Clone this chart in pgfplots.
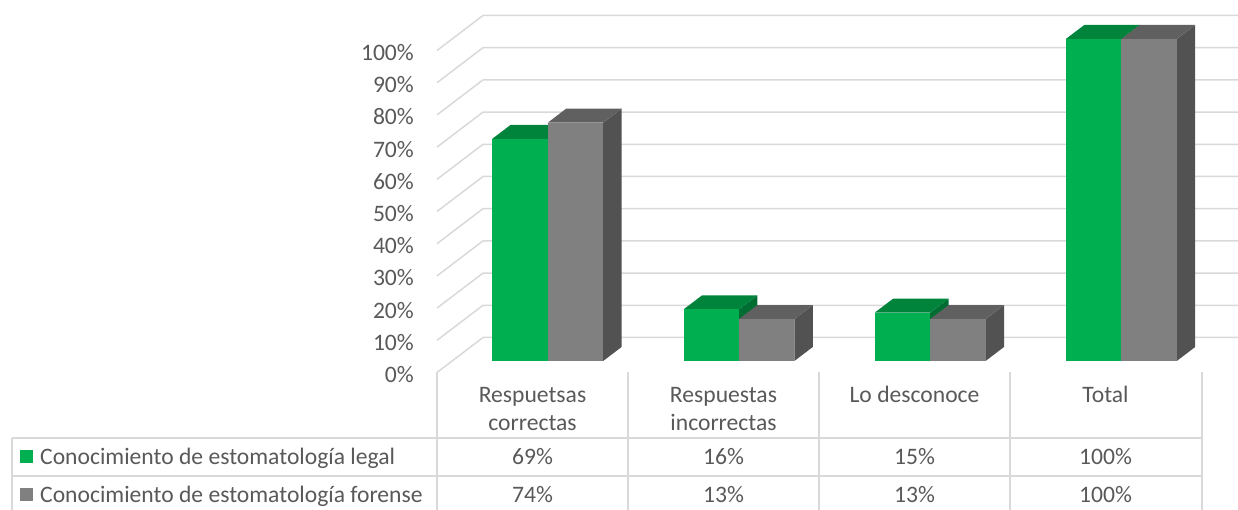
\documentclass[border=0pt]{standalone}
\usepackage{pgfplots}
\pgfplotsset{compat=1.18}
\usepackage{pgfplotstable}
\usepackage{fontspec}
\setmainfont{Carlito}
\definecolor{gfront}{HTML}{00B050}
\definecolor{gtop}{HTML}{00843C}
\definecolor{gside}{HTML}{006E32}
\definecolor{kfront}{HTML}{808080}
\definecolor{ktop}{HTML}{606060}
\definecolor{kside}{HTML}{525252}
\definecolor{gridc}{HTML}{D9D9D9}
\definecolor{txt}{HTML}{595959}
\newcommand\cfont{\fontsize{23.6}{28}\selectfont}

\pgfplotstableread{
idx legal forense
0 69 74
1 16 13
2 15 13
3 100 100
}\datatab

\def\dA{0.33}
\def\dB{0.73}
\newcommand\drawbar[7]{%
  \pgfmathsetmacro\xa{#1+#2}\pgfmathsetmacro\xb{#1+#3}%
  \edef\doit{%
    \noexpand\addplot3[fill=#7,draw=none,mark=none] coordinates {(\xb,\dA,0) (\xb,\dB,0) (\xb,\dB,#4) (\xb,\dA,#4)};
    \noexpand\addplot3[fill=#6,draw=none,mark=none] coordinates {(\xa,\dA,#4) (\xb,\dA,#4) (\xb,\dB,#4) (\xa,\dB,#4)};
    \noexpand\addplot3[fill=#5,draw=none,mark=none] coordinates {(\xa,\dA,0) (\xb,\dA,0) (\xb,\dA,#4) (\xa,\dA,#4)};
  }\doit}

\begin{document}
\begin{tikzpicture}[x=1pt,y=1pt]
\begin{axis}[hide axis, clip=false,
  x={(191.2pt,0pt)}, y={(46pt,35pt)}, z={(0pt,3.22pt)},
  xmin=0,xmax=4,ymin=0,ymax=1,zmin=0,zmax=100,
  anchor=origin, at={(437pt,137.5pt)}]
\pgfplotsinvokeforeach{0,10,...,100}{
  \addplot3[gridc, line width=1.5pt, mark=none] coordinates {(0,0,#1) (0,1,#1) (4,1,#1)};
  \node[anchor=base east, font=\cfont, text=txt, inner sep=0pt, xshift=-23pt, yshift=-10pt] at (axis cs:0,0,#1) {#1\%};
}
\pgfplotsinvokeforeach{0,...,3}{
  \pgfplotstablegetelem{#1}{legal}\of\datatab \let\vL\pgfplotsretval
  \pgfplotstablegetelem{#1}{forense}\of\datatab \let\vF\pgfplotsretval
  \drawbar{#1}{0.21}{0.5}{\vL}{gfront}{gtop}{gside}
  \drawbar{#1}{0.5}{0.79}{\vF}{kfront}{ktop}{kside}
}
\end{axis}
% data table
\begin{scope}[gridc, line width=1.5pt]
\foreach \X in {437,628,819,1010,1202} \draw (\X,138) -- (\X,-6);
\draw (12,72) -- (12,-6);
\draw (12,72) -- (1202,72);
\draw (12,34) -- (1202,34);
\draw (12,-4) -- (1202,-4);
\end{scope}
\begin{scope}[every node/.style={font=\cfont, text=txt, inner sep=0pt}]
\node[anchor=base] at (532.5,107) {Respuetsas};
\node[anchor=base] at (532.5,79) {correctas};
\node[anchor=base] at (723.5,107) {Respuestas};
\node[anchor=base] at (723.5,79) {incorrectas};
\node[anchor=base] at (914.5,107) {Lo desconoce};
\node[anchor=base] at (1105.5,107) {Total};
\fill[gfront] (20,46.5) rectangle (33,59.5);
\fill[kfront] (20,9) rectangle (33,22);
\node[anchor=base west] at (40,45) {Conocimiento de estomatología legal};
\node[anchor=base west] at (40,7) {Conocimiento de estomatología forense};
\foreach \r in {0,...,3}{
  \pgfmathsetmacro\cx{532.5+191*\r}
  \pgfplotstablegetelem{\r}{legal}\of\datatab
  \node[anchor=base] at (\cx,45) {\pgfplotsretval\%};
  \pgfplotstablegetelem{\r}{forense}\of\datatab
  \node[anchor=base] at (\cx,7) {\pgfplotsretval\%};
}
\end{scope}
\pgfresetboundingbox
\path[use as bounding box] (0,0) rectangle (1238,510);
\end{tikzpicture}
\end{document}
